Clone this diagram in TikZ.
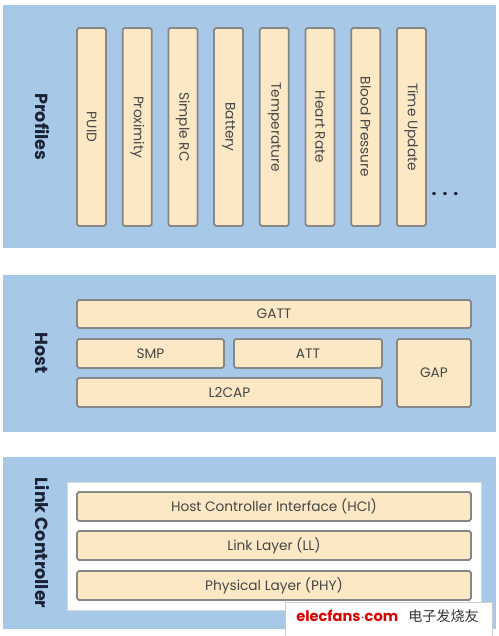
\documentclass[tikz,border=0pt]{standalone}
\usepackage{fontspec}
\setmainfont{Poppins}
\newfontfamily\cjkfont{Noto Sans CJK SC}
\usepackage{xcolor}
\usepackage{tikz}
\usetikzlibrary{positioning}

\definecolor{panelblue}{RGB}{168,200,232}
\definecolor{barfill}{RGB}{253,232,198}
\definecolor{bargrey}{RGB}{135,135,135}
\definecolor{labelnavy}{RGB}{26,34,56}
\definecolor{textgrey}{RGB}{70,70,70}

\begin{document}
\begin{tikzpicture}[
    x=0.02cm, y=-0.02cm,
    panel/.style={fill=panelblue, draw=none, minimum width=9.86cm},
    plabel/.style={rotate=-90, font=\fontsize{10}{12}\selectfont\bfseries, text=labelnavy},
    vbar/.style={draw=bargrey, fill=barfill, line width=1pt, rounded corners=1pt, rotate=-90, minimum width=3.96cm, minimum height=0.58cm, inner sep=0pt, font=\fontsize{7.8}{9}\selectfont, text=textgrey},
    hbar/.style={draw=bargrey, fill=barfill, line width=1pt, rounded corners=1pt, minimum height=0.58cm, inner sep=0pt, font=\fontsize{7.8}{9}\selectfont, text=textgrey}
]
    \useasboundingbox[fill=white] (0,0) rectangle (499,636);

    % Profiles
    \node[panel, minimum height=4.86cm] (profiles) at (249.5,126.5) {};
    \node[plabel] (profiles_lbl) at (42,127) {Profiles};

    \node[vbar] (puid) at (91.5,127) {PUID};
    \node[vbar] (proximity) at (137.2,127) {Proximity};
    \node[vbar] (simple_rc) at (182.9,127) {Simple RC};
    \node[vbar] (battery) at (228.6,127) {Battery};
    \node[vbar] (temperature) at (274.3,127) {Temperature};
    \node[vbar] (heart_rate) at (320,127) {Heart Rate};
    \node[vbar] (blood_pressure) at (365.7,127) {Blood Pressure};
    \node[vbar] (time_update) at (411.4,127) {Time Update};
    \node[text=labelnavy, font=\bfseries] (dots) at (445,194) {.\,\,.\,\,.};

    % Host
    \node[panel, minimum height=3.14cm] (host) at (249.5,353.5) {};
    \node[plabel] (host_lbl) at (42,353) {Host};

    \node[hbar, minimum width=7.88cm, minimum height=0.56cm] (gatt) at (274,314) {GATT};
    \node[hbar, minimum width=2.94cm] (smp) at (150.5,353.5) {SMP};
    \node[hbar, minimum width=2.96cm] (att) at (308,353.5) {ATT};
    \node[hbar, minimum width=6.10cm] (l2cap) at (229.5,392.5) {L2CAP};
    \node[hbar, minimum width=1.48cm, minimum height=1.36cm] (gap) at (434,373) {GAP};

    % Link controller
    \node[panel, minimum height=3.44cm] (link) at (249.5,543) {};
    \node[plabel] (link_lbl) at (42,543) {Link Controller};
    \node[fill=white, draw=black!15, minimum width=8.28cm, minimum height=2.56cm] (ctrl) at (274,546) {};

    \node[hbar, minimum width=7.88cm] (hci) at (274,506.5) {Host Controller Interface (HCI)};
    \node[hbar, minimum width=7.88cm] (ll) at (274,545.5) {Link Layer (LL)};
    \node[hbar, minimum width=7.88cm] (phy) at (274,585.5) {Physical Layer (PHY)};

    % watermark
    \node[fill=white, draw=black!20, minimum width=4.14cm, minimum height=0.70cm, anchor=north west] (mark) at (285,602) {};
    \node[text=red!85!black, font=\fontsize{8.3}{10}\selectfont\bfseries, anchor=west, inner sep=0pt] (mark_url) at (296,616) {elecfans$\cdot$com};
    \node[text=black!80, font=\cjkfont\fontsize{8}{10}\selectfont, anchor=west, inner sep=0pt] (mark_cn) at (408,616) {电子发烧友};
\end{tikzpicture}
\end{document}
